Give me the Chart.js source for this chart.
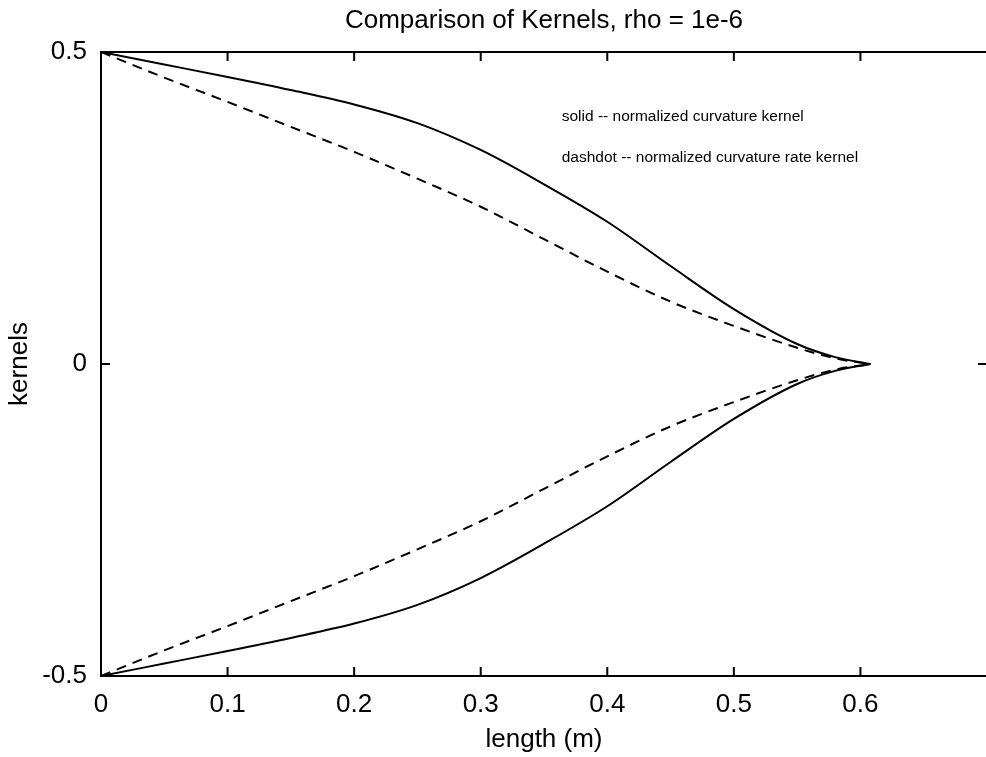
<!DOCTYPE html>
<html>
<head>
<meta charset="utf-8">
<title>Comparison of Kernels</title>
<script src="https://cdn.jsdelivr.net/npm/chart.js@4/dist/chart.umd.min.js"></script>
<style>
  html, body { margin: 0; padding: 0; background: #fff; overflow: hidden; }
  #box { width: 1000px; height: 757px; }
</style>
</head>
<body>
<div id="box"><canvas id="grafico"></canvas></div>
<script>
// length along the beam (m)
var lengths = [0, 0.05, 0.1, 0.15, 0.2, 0.25, 0.3, 0.35, 0.4, 0.45, 0.5, 0.55, 0.58, 0.608];
// normalized curvature kernel (solid)
var solidUpper = [0.5, 0.48, 0.46, 0.439, 0.416, 0.386, 0.343, 0.288, 0.228, 0.157, 0.088, 0.032, 0.011, 0];
var solidLower = [-0.5, -0.48, -0.46, -0.439, -0.416, -0.386, -0.343, -0.288, -0.228, -0.157, -0.088, -0.032, -0.011, 0];
// normalized curvature rate kernel (dashdot)
var rateUpper = [0.5, 0.459, 0.42, 0.38, 0.34, 0.297, 0.252, 0.2, 0.148, 0.1, 0.061, 0.026, 0.009, 0];
var rateLower = [-0.5, -0.459, -0.42, -0.38, -0.34, -0.297, -0.252, -0.2, -0.148, -0.1, -0.061, -0.026, -0.009, 0];

var xTicks = [0, 0.1, 0.2, 0.3, 0.4, 0.5, 0.6, 0.7];
var yTicks = [-0.5, 0, 0.5];
var titolo = 'Comparison of Kernels, rho = 1e-6';
var notes = ['solid -- normalized curvature kernel', 'dashdot -- normalized curvature rate kernel'];

var font = '"Liberation Sans", Arial, Helvetica, sans-serif';

function punti(ys) {
  var out = [];
  for (var i = 0; i < lengths.length; i++) {
    out.push({ x: lengths[i], y: ys[i] });
  }
  return out;
}

function serie(ys, dashed) {
  return {
    data: punti(ys),
    borderColor: '#000',
    borderWidth: 2,
    borderDash: dashed ? [10, 7] : [],
    pointRadius: 0,
    fill: false,
    cubicInterpolationMode: 'monotone'
  };
}

// title over the plot box, frame, inward tick marks and the text notes
var cornice = {
  id: 'cornice',
  afterDraw: function(chart) {
    var ctx = chart.ctx;
    var a = chart.chartArea;
    var sx = chart.scales.x, sy = chart.scales.y;
    ctx.save();
    ctx.fillStyle = '#000';
    ctx.font = '26px ' + font;
    ctx.textAlign = 'center';
    ctx.textBaseline = 'alphabetic';
    ctx.fillText(titolo, (a.left + a.right) / 2, 28);

    ctx.strokeStyle = '#000';
    ctx.lineWidth = 2;
    ctx.setLineDash([]);
    ctx.strokeRect(a.left, a.top, a.right - a.left, a.bottom - a.top);
    ctx.beginPath();
    for (var i = 0; i < xTicks.length; i++) {
      var px = sx.getPixelForValue(xTicks[i]);
      ctx.moveTo(px, a.bottom); ctx.lineTo(px, a.bottom - 9);
      ctx.moveTo(px, a.top); ctx.lineTo(px, a.top + 9);
    }
    for (var j = 0; j < yTicks.length; j++) {
      var py = sy.getPixelForValue(yTicks[j]);
      ctx.moveTo(a.left, py); ctx.lineTo(a.left + 9, py);
      ctx.moveTo(a.right, py); ctx.lineTo(a.right - 9, py);
    }
    ctx.stroke();

    ctx.font = '15.5px ' + font;
    ctx.textAlign = 'left';
    ctx.textBaseline = 'middle';
    ctx.fillText(notes[0], sx.getPixelForValue(0.364), sy.getPixelForValue(0.396));
    ctx.fillText(notes[1], sx.getPixelForValue(0.364), sy.getPixelForValue(0.33));
    ctx.restore();
  }
};

var ctx = document.getElementById('grafico');
var grafico = new Chart(ctx, {
  type: 'line',
  data: {
    datasets: [
      serie(solidUpper, false),
      serie(rateUpper, true),
      serie(rateLower, true),
      serie(solidLower, false)
    ]
  },
  options: {
    responsive: true,
    maintainAspectRatio: false,
    animation: false,
    layout: { padding: { left: 0, right: 5, top: 52, bottom: 0 } },
    plugins: {
      legend: { display: false },
      tooltip: { enabled: false },
      title: { display: false }
    },
    scales: {
      x: {
        type: 'linear',
        min: 0,
        max: 0.7,
        afterFit: function(scale) { scale.height = 81; },
        afterBuildTicks: function(scale) {
          scale.ticks = xTicks.map(function(v) { return { value: v }; });
        },
        grid: { display: false, drawTicks: false },
        border: { display: false },
        ticks: {
          color: '#000',
          padding: 13,
          maxRotation: 0,
          font: { family: font, size: 26 },
          callback: function(v) { return v > 0.65 ? '' : String(Math.round(v * 10) / 10); }
        },
        title: {
          display: true,
          text: 'length (m)',
          color: '#000',
          font: { family: font, size: 26 },
          padding: { top: 0, bottom: 2 }
        }
      },
      y: {
        min: -0.5,
        max: 0.5,
        afterFit: function(scale) { scale.width = 101; },
        afterBuildTicks: function(scale) {
          scale.ticks = yTicks.map(function(v) { return { value: v }; });
        },
        grid: { display: false, drawTicks: false },
        border: { display: false },
        ticks: {
          color: '#000',
          padding: 14,
          font: { family: font, size: 26 },
          callback: function(v) { return String(v); }
        },
        title: {
          display: true,
          text: 'kernels',
          color: '#000',
          font: { family: font, size: 26 },
          padding: { top: 4, bottom: 0 }
        }
      }
    }
  },
  plugins: [cornice]
});
</script>
</body>
</html>
